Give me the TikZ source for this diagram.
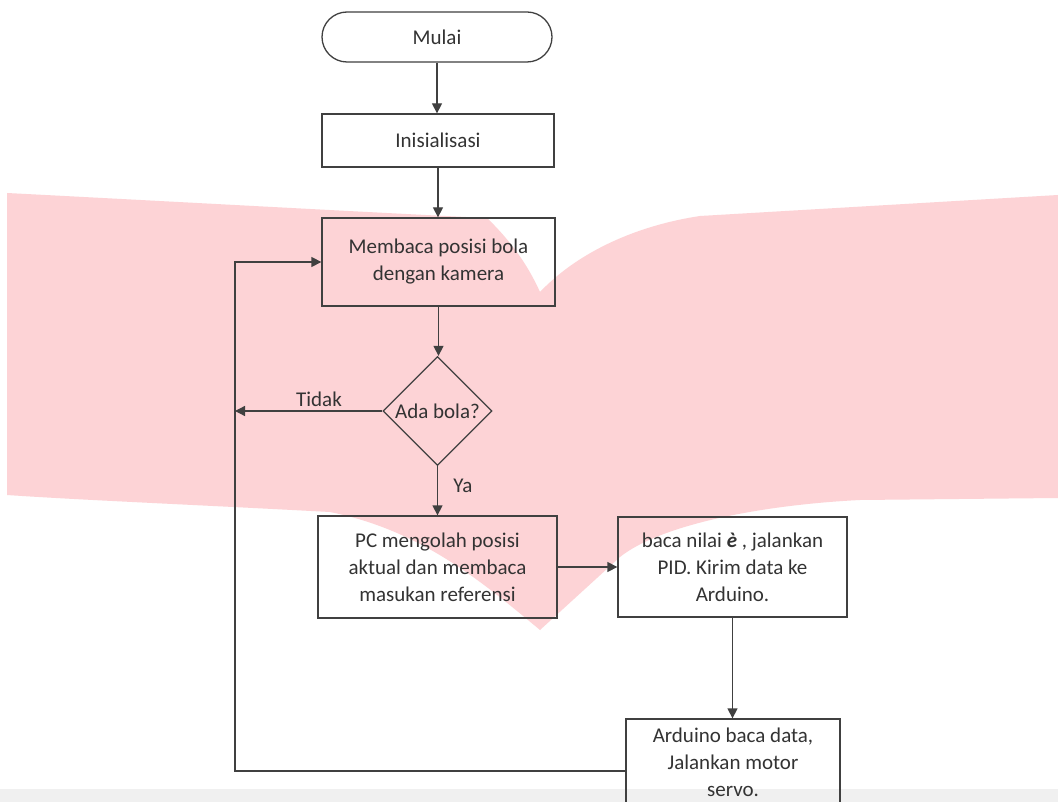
\documentclass[tikz,border=0pt]{standalone}
\usepackage{fontspec}
\setmainfont{Carlito}
\usetikzlibrary{shapes.geometric,shapes.misc,arrows.meta}
\definecolor{watermark}{RGB}{253,211,214}
\definecolor{garis}{RGB}{64,64,64}

\begin{document}
\begin{tikzpicture}[x=1pt,y=-1pt,
  every node/.style={font=\fontsize{21}{27}\selectfont, text=black!80},
  kotak/.style={draw=garis, line width=1.3pt, rectangle, align=center, inner sep=0pt},
  terminal/.style={kotak, rounded rectangle},
  keputusan/.style={draw=garis, line width=1.3pt, diamond, minimum width=109pt, minimum height=109pt, inner sep=0pt},
  panah/.style={draw=garis, line width=1.3pt, -{Triangle[length=10pt,width=10pt]}}]

% Page
\clip (0,0) rectangle (1058,802);
\fill[white] (0,0) rectangle (1058,802);

% Watermark
\fill[watermark] (7,193) .. controls (200,203) and (400,214) .. (487,218)
  .. controls (515,245) and (530,270) .. (540,292)
  .. controls (580,250) and (640,225) .. (700,216)
  -- (1058,195) -- (1058,498) -- (860,500)
  .. controls (760,505) and (660,525) .. (620,557)
  -- (540,630)
  .. controls (480,580) and (420,530) .. (330,512)
  .. controls (200,505) and (80,500) .. (7,495) -- cycle;
\fill[black!6] (0,789) rectangle (1058,802);

% Nodes
\node[terminal, minimum width=230pt, minimum height=50pt] (mulai) at (437,37) {Mulai};
\node[kotak, minimum width=232pt, minimum height=53pt] (init) at (438,140.5) {Inisialisasi};
\node[kotak, minimum width=233pt, minimum height=88pt] (kamera) at (438.5,262) {Membaca posisi bola\\dengan kamera};
\node[keputusan] (adabola) at (437.5,411) {};
\node (adabolateks) at (adabola.center) {Ada bola?};
\node[kotak, minimum width=239pt, minimum height=102pt] (olah) at (437.5,567) {PC mengolah posisi\\aktual dan membaca\\masukan referensi};
\node[kotak, minimum width=229pt, minimum height=100pt] (pid) at (732.5,567) {baca nilai \textbf{\textit{è}} , jalankan\\PID. Kirim data ke\\Arduino.};
\node[kotak, minimum width=214pt, minimum height=86pt] (arduino) at (733,762) {Arduino baca data,\\Jalankan motor\\servo.};
\coordinate (kiri) at (235,0);
\coordinate (balik) at ([yshift=-9pt]arduino.west);

% Arrows
\draw[panah] (mulai.south) -- (mulai.south |- init.north);
\draw[panah] (init.south) -- (init.south |- kamera.north);
\draw[panah] (kamera.south) -- (kamera.south |- adabola.north);
\draw[panah] (adabola.south) -- (adabola.south |- olah.north) node[pos=0.4, right=12pt] {Ya};
\draw[panah] (adabola.west) -- (kiri |- adabola.west) node[pos=0.43, above] {Tidak};
\draw[panah] (olah.east) -- (pid.west);
\draw[panah] (pid.south) -- (pid.south |- arduino.north);

% Loop back
\draw[panah] (balik) -- (kiri |- balik) -- (kiri |- kamera.west) -- (kamera.west);

\end{tikzpicture}
\end{document}
